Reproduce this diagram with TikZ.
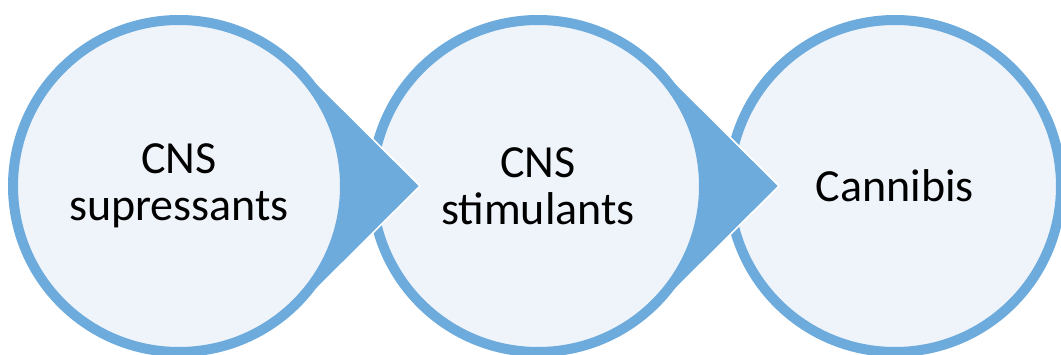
\documentclass[tikz,border=0pt]{standalone}
\usepackage{fontspec}
\setmainfont{Carlito}
\usetikzlibrary{calc}
\definecolor{ringblue}{HTML}{6DABDC}
\definecolor{lightfill}{HTML}{EFF4FB}
\begin{document}
\begin{tikzpicture}[x=1pt,y=1pt,
  ring/.style={circle, draw=ringblue, fill=lightfill, line width=10pt,
    minimum size=332pt, inner sep=0pt, align=center, font=\fontsize{46}{47}\selectfont},
  pointer/.style={fill=ringblue, draw=white, line width=1.6pt, line join=miter}]
\useasboundingbox (0,0) rectangle (1061,354);
\coordinate (p1) at (179,168);
\coordinate (p2) at (538,168);
\coordinate (p3) at (895,168);
% third circle (bottom of the stack)
\node[ring] (c3) at (p3) {Cannibis};
% pointer and circle 2
\filldraw[pointer] ($(p2)+(45:170)$) -- ($(p2)+(241,0)$) -- ($(p2)+(-45:170)$) -- (p2) -- cycle;
\node[ring] (c2) at (p2) {CNS\\stimulants};
% pointer and circle 1
\filldraw[pointer] ($(p1)+(45:170)$) -- ($(p1)+(241,0)$) -- ($(p1)+(-45:170)$) -- (p1) -- cycle;
\node[ring] (c1) at (p1) {CNS\\supressants};
\end{tikzpicture}
\end{document}
